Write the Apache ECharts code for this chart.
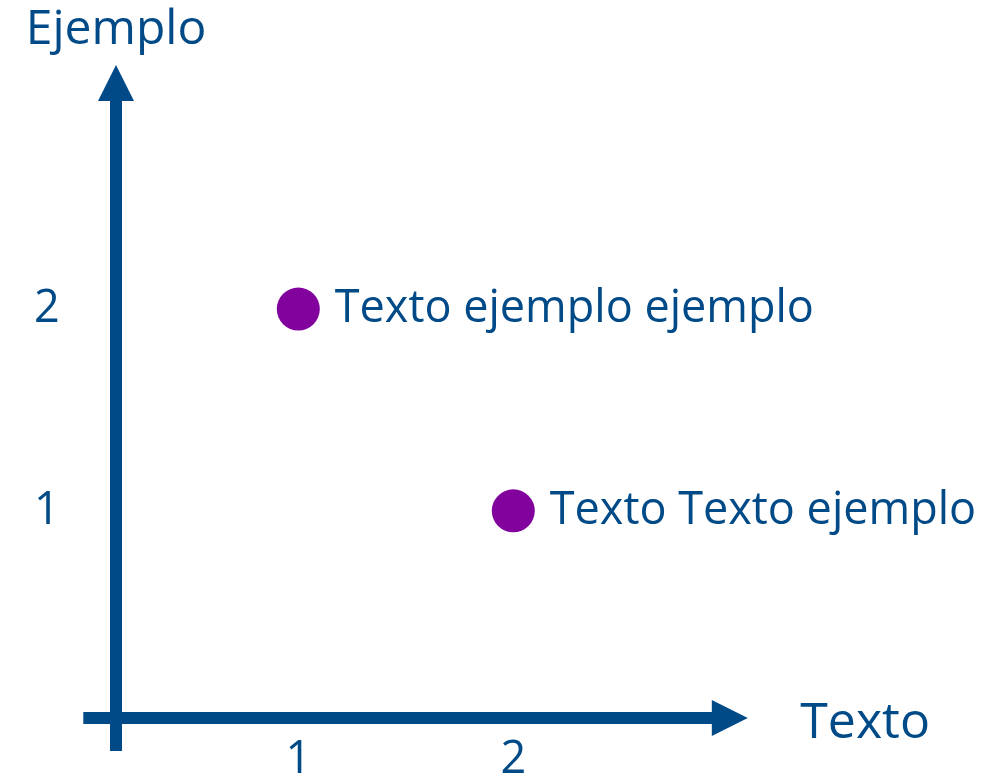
<!DOCTYPE html>
<html>
<head>
<meta charset="utf-8">
<script src="https://cdn.jsdelivr.net/npm/echarts@6/dist/echarts.min.js"></script>
<style>
html,body{margin:0;padding:0;background:#fff;}
#c{width:996px;height:781px;}
</style>
</head>
<body>
<div id="c"></div>
<script>
const xValues = [1, 2];
const yValues = [2, 1];
const pointLabels = ['Texto ejemplo ejemplo', 'Texto Texto ejemplo'];
const xTickLabels = [1, 2];
const yTickLabels = [1, 2];
const xAxisName = 'Texto';
const yAxisName = 'Ejemplo';

const BLUE = '#004A87';
const PURPLE = '#82029E';
const FONT = 'Open Sans';

const chart = echarts.init(document.getElementById('c'));
chart.setOption({
  backgroundColor: '#ffffff',
  animation: false,
  grid: {left: 83.3, right: 267.7, top: 83, bottom: 30, containLabel: false, outerBoundsMode: 'none'},
  xAxis: {
    type: 'value', min: 0, max: 3, position: 'bottom', offset: -33,
    name: xAxisName, nameLocation: 'end', nameGap: 72,
    nameTextStyle: {color: BLUE, fontSize: 50, fontFamily: FONT, verticalAlign: 'top', lineHeight: 12},
    axisLine: {show: true, onZero: false, symbol: ['none', 'triangle'], symbolSize: [36, 36], symbolOffset: [0, 1.5],
      lineStyle: {color: BLUE, width: 12, cap: 'butt'}},
    axisTick: {show: false},
    splitLine: {show: false},
    axisLabel: {customValues: xTickLabels, color: BLUE, fontSize: 45, fontFamily: FONT, margin: 20}
  },
  yAxis: {
    type: 'value', min: -0.19, max: 3.12, position: 'left', offset: -32.7,
    name: yAxisName, nameLocation: 'end', nameGap: 29,
    nameTextStyle: {color: BLUE, fontSize: 48, fontFamily: FONT, align: 'center'},
    axisLine: {show: true, onZero: false, symbol: ['none', 'triangle'], symbolSize: [36, 36],
      lineStyle: {color: BLUE, width: 12, cap: 'butt'}},
    axisTick: {show: false},
    splitLine: {show: false},
    axisLabel: {customValues: yTickLabels, color: BLUE, fontSize: 45, fontFamily: FONT, margin: 82, align: 'left'}
  },
  series: [{
    type: 'scatter',
    symbol: 'circle',
    symbolSize: 43,
    itemStyle: {color: PURPLE, opacity: 1},
    data: xValues.map((x, i) => ({value: [x, yValues[i]], name: pointLabels[i]})),
    label: {show: true, position: 'right', distance: 15, formatter: '{b}',
      color: BLUE, fontSize: 45, fontFamily: FONT}
  }]
});
</script>
</body>
</html>
